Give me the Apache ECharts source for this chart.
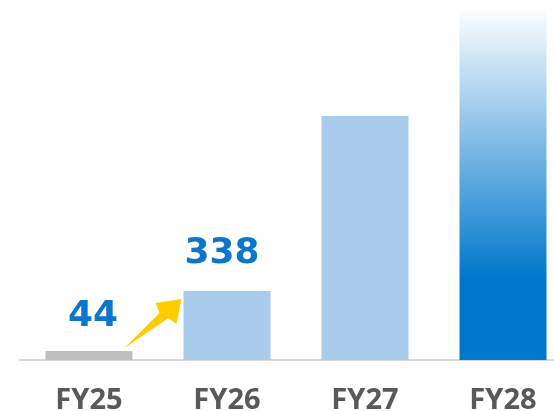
<!DOCTYPE html>
<html>
<head>
<meta charset="utf-8">
<script src="https://cdn.jsdelivr.net/npm/echarts@6/dist/echarts.min.js"></script>
<style>
  html, body { margin: 0; padding: 0; background: #fff; }
  #chart { width: 554px; height: 411px; }
</style>
</head>
<body>
<div id="chart"></div>
<script>
// 年度
var categories = ['FY25', 'FY26', 'FY27', 'FY28'];
// 数值（FY27/FY28 无标注，按图估计）
var values = [44, 338, 1195, 1729];
// 只显示前两个标签
var showLabel = [true, true, false, false];
var labelShift = [4, -5, 0, 0];
var labelGap = [16, 19, 19, 19];

var chart = echarts.init(document.getElementById('chart'));

var blue = '#0077CC';
var barColors = [
  '#BFBFBF',
  '#A9CBEC',
  '#A9CBEC',
  new echarts.graphic.LinearGradient(0, 0, 0, 1, [
    { offset: 0, color: '#FFFFFF' },
    { offset: 0.77, color: blue },
    { offset: 1, color: blue }
  ])
];

var seriesData = values.map(function (v, i) {
  return {
    value: v,
    itemStyle: { color: barColors[i] },
    label: { show: showLabel[i], offset: [labelShift[i], 0], distance: labelGap[i] }
  };
});

var option = {
  animation: false,
  grid: { left: 20, width: 552, top: 0, bottom: 51, outerBoundsMode: 'none' },
  xAxis: {
    type: 'category',
    data: categories,
    axisLine: { lineStyle: { color: '#D9D9D9', width: 2 } },
    axisTick: { show: false },
    axisLabel: {
      margin: 26,
      color: '#595959',
      fontSize: 29,
      fontWeight: 'bold',
      fontFamily: 'Noto Sans'
    }
  },
  yAxis: { type: 'value', min: 0, max: 1763, show: false },
  series: [
    {
      type: 'bar',
      barWidth: 87,
      data: seriesData,
      label: {
        position: 'top',
        color: '#0B76CB',
        fontSize: 36,
        fontWeight: 'bold',
        fontFamily: 'DejaVu Sans'
      }
    }
  ]
};

chart.setOption(option);

// 黄色箭头：从 FY25 指向 FY26
var p25 = chart.convertToPixel({ xAxisIndex: 0, yAxisIndex: 0 }, [categories[0], 0]);
var p26 = chart.convertToPixel({ xAxisIndex: 0, yAxisIndex: 0 }, [categories[1], values[1]]);
var tail = [p25[0] + 35.5, p25[1] - 12];
var tip = [p26[0] - 45.5, p26[1] + 8];
var pts = [
  tail,
  [tip[0] - 22, tip[1] + 14],
  [tip[0] - 26, tip[1] + 4],
  tip,
  [tip[0] - 5, tip[1] + 25],
  [tip[0] - 13, tip[1] + 19]
];
chart.setOption({
  graphic: [{
    type: 'polygon',
    shape: { points: pts },
    style: { fill: '#FFCC00' },
    z: 10
  }]
});
</script>
</body>
</html>
